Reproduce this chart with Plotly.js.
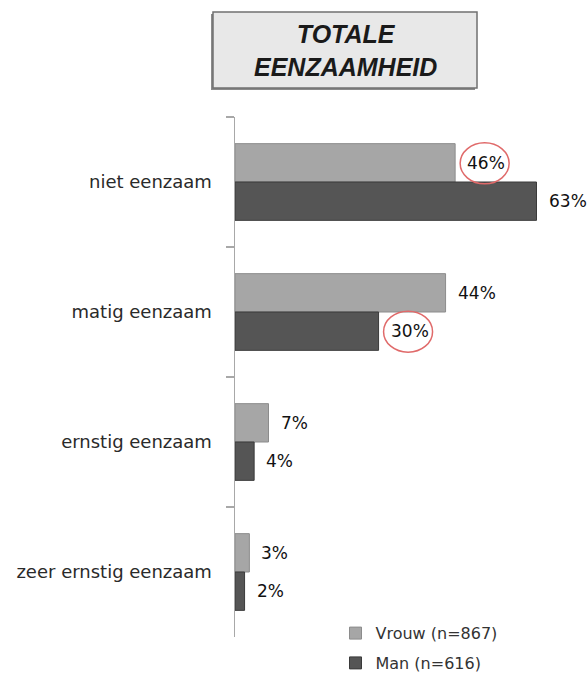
<!DOCTYPE html>
<html>
<head>
<meta charset="utf-8">
<script src="https://cdn.plot.ly/plotly-3.0.1.min.js"></script>
<style>html,body{margin:0;padding:0;background:#fff;}#chart{width:587px;height:676px;}</style>
</head>
<body>
<div id="chart"></div>
<script>
// ---- data ----
const categories = ['niet eenzaam', 'matig eenzaam', 'ernstig eenzaam', 'zeer ernstig eenzaam'];
const vrouw = [46, 44, 7, 3];
const man = [63, 30, 4, 2];
const seriesNames = ['Vrouw (n=867)', 'Man (n=616)'];
const titleLines = ['TOTALE', 'EENZAAMHEID'];
// labels circled in red: [series index, category index]
const circled = [[0, 0], [1, 1]];

// ---- styling ----
const colors = ['#a6a6a6', '#555555'];
const lineColors = ['#8c8c8c', '#3a3a3a'];
const groupOffset = 0.1475;
const labelFont = {family: 'DejaVu Sans', size: 17, color: '#111111'};

const series = [vrouw, man];
const traces = series.map((vals, s) => ({
  type: 'bar',
  orientation: 'h',
  name: seriesNames[s],
  y: categories,
  x: vals,
  marker: {color: colors[s], line: {color: lineColors[s], width: 1}},
  hoverinfo: 'skip',
  legendgroup: 'g' + s
}));

const annotations = [];
series.forEach((vals, s) => {
  vals.forEach((v, i) => {
    annotations.push({
      x: v, y: i + (s === 0 ? -groupOffset : groupOffset),
      xref: 'x', yref: 'y',
      text: v + '%', showarrow: false,
      xanchor: 'left', yanchor: 'middle', xshift: 10,
      font: labelFont
    });
  });
});
annotations.push({
  x: 0.3284, y: 1.1288, xref: 'paper', yref: 'paper',
  text: titleLines.join('<br>'), showarrow: false,
  xanchor: 'center', yanchor: 'middle',
  font: {family: 'Liberation Sans', size: 25, color: '#1a1a1a', weight: 'bold', style: 'italic'}
});

const shapes = [
  {type: 'rect', xref: 'paper', yref: 'paper', x0: -0.0716, x1: 0.7164, y0: 1.0519, y1: 1.1981,
   fillcolor: '#8a8a8a', line: {width: 0}, layer: 'above'},
  {type: 'rect', xref: 'paper', yref: 'paper', x0: -0.0657, x1: 0.7224, y0: 1.0558, y1: 1.2019,
   fillcolor: '#e8e8e8', line: {color: '#707070', width: 1.5}, layer: 'above'}
];
circled.forEach(([s, i]) => {
  const v = series[s][i];
  shapes.push({
    type: 'circle', xref: 'x', yref: 'y',
    xsizemode: 'pixel', ysizemode: 'pixel',
    xanchor: v, yanchor: i + (s === 0 ? -groupOffset : groupOffset),
    x0: 5, x1: 54, y0: -21, y1: 20,
    line: {color: '#e06a6a', width: 1.5}, fillcolor: 'rgba(0,0,0,0)'
  });
});

const layout = {
  width: 587, height: 676,
  margin: {l: 235, r: 17, t: 117, b: 39, autoexpand: false},
  paper_bgcolor: '#ffffff', plot_bgcolor: '#ffffff',
  barmode: 'group', bargap: 0.41, bargroupgap: 0,
  showlegend: true,
  legend: {
    x: 0.30, y: 0.04, xanchor: 'left', yanchor: 'top',
    font: {family: 'DejaVu Sans', size: 16, color: '#333'},
    traceorder: 'grouped', tracegroupgap: 6,
    bgcolor: 'rgba(0,0,0,0)'
  },
  xaxis: {range: [0, 70], showgrid: false, zeroline: false, showline: false,
          showticklabels: false, ticks: '', fixedrange: true},
  yaxis: {type: 'category', range: [3.5, -0.5], showgrid: false, zeroline: false,
          showline: true, linecolor: '#a8a8a8', linewidth: 1.5,
          ticks: 'outside', tickson: 'boundaries', ticklen: 8, tickcolor: '#a8a8a8', tickwidth: 1.5,
          ticklabelstandoff: 18,
          tickfont: {family: 'DejaVu Sans', size: 18, color: '#2a2a2a'}, fixedrange: true},
  annotations: annotations,
  shapes: shapes
};

Plotly.newPlot('chart', traces, layout, {displayModeBar: false, staticPlot: true});
</script>
</body>
</html>
